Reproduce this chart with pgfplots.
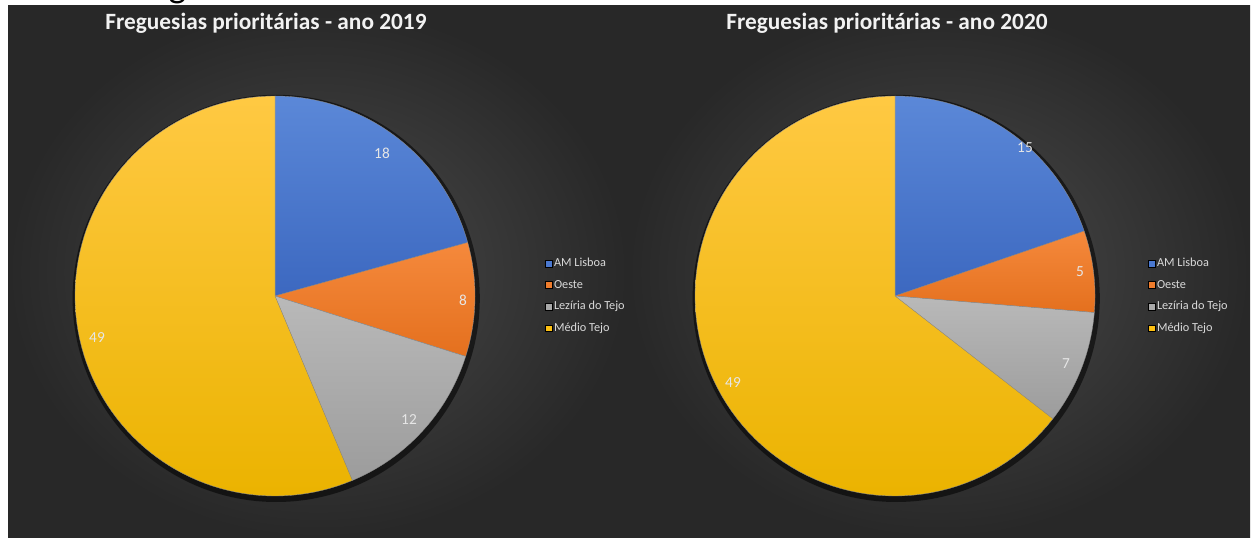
\documentclass[border=0pt]{standalone}
\usepackage{pgfplots}
\pgfplotsset{compat=1.18}
\usepackage{fontspec}
\setmainfont{Carlito}
\definecolor{bgin}{HTML}{4C4C4C}
\definecolor{bgout}{HTML}{282828}
\definecolor{blueT}{HTML}{5B88D8}
\definecolor{blueB}{HTML}{3C68C0}
\definecolor{blueM}{HTML}{4A78CF}
\definecolor{orangeT}{HTML}{F5893C}
\definecolor{orangeB}{HTML}{E4701E}
\definecolor{orangeM}{HTML}{EE7C2C}
\definecolor{grayT}{HTML}{B9B9B9}
\definecolor{grayB}{HTML}{9C9C9C}
\definecolor{grayM}{HTML}{A8A8A8}
\definecolor{yellowT}{HTML}{FFC943}
\definecolor{yellowB}{HTML}{EBB300}
\definecolor{yellowM}{HTML}{FDC012}
\definecolor{lbl}{HTML}{E6E6E6}
\definecolor{legtxt}{HTML}{D9D9D9}
\definecolor{ttl}{HTML}{F2F2F2}

\newcommand\slice[4]{%
  \addplot[forget plot, draw=black!45, line width=0.25pt, top color=#3, bottom color=#4,
    domain=#1:#2, samples=90, variable=\t] ({cos(\t)},{sin(\t)}) -- (axis cs:0,0) -- cycle;}

\pgfplotsset{pieaxis/.style={
  scale only axis, width=300pt, height=300pt,
  xmin=-1, xmax=1, ymin=-1, ymax=1, hide axis, clip=false, anchor=center,
  legend image code/.code={\fill[##1] (0pt,-2.6pt) rectangle (5.2pt,2.6pt);},
  legend cell align=left,
  legend style={draw=none, fill=none, anchor=west, text=legtxt,
    font=\fontsize{9.2}{10}\selectfont, row sep=6.4pt, inner sep=0pt,
    nodes={inner xsep=1pt, inner ysep=1pt}},
}}

\begin{document}
\begin{tikzpicture}
% data
\pgfmathsetmacro\Ta{18+8+12+49}
\pgfmathsetmacro\Aa{90-360*18/\Ta}
\pgfmathsetmacro\Ab{\Aa-360*8/\Ta}
\pgfmathsetmacro\Ac{\Ab-360*12/\Ta}
\pgfmathsetmacro\Tb{15+5+7+49}
\pgfmathsetmacro\Ba{90-360*15/\Tb}
\pgfmathsetmacro\Bb{\Ba-360*5/\Tb}
\pgfmathsetmacro\Bc{\Bb-360*7/\Tb}
% background
\fill[white] (0,0) rectangle (941.25pt,403.5pt);
\shade[inner color=bgin, outer color=bgout] (6pt,0) rectangle (471pt,399pt);
\shade[inner color=bgin, outer color=bgout] (471pt,0) rectangle (937.5pt,399pt);
\node[anchor=base, font=\fontsize{28}{30}\selectfont, text=black] at (133pt,405pt) {g};

\begin{axis}[pieaxis, at={(206.25pt,181.5pt)},
  legend style={at={(axis cs:1.35,0)}}]
\fill[black, opacity=0.55] (axis cs:0.006,-0.012) circle[radius=1.018];
\slice{\Aa}{90}{blueT}{blueB}
\slice{\Ab}{\Aa}{orangeT}{orangeB}
\slice{\Ac}{\Ab}{grayT}{grayB}
\slice{-270}{\Ac}{yellowT}{yellowB}
\addlegendimage{fill=blueM}\addlegendentry{AM Lisboa}
\addlegendimage{fill=orangeM}\addlegendentry{Oeste}
\addlegendimage{fill=grayM}\addlegendentry{Lezíria do Tejo}
\addlegendimage{fill=yellowM}\addlegendentry{Médio Tejo}
\node[text=lbl, font=\fontsize{11.5}{12}\selectfont] at (axis cs:0.535,0.715) {18};
\node[text=lbl, font=\fontsize{11.5}{12}\selectfont] at (axis cs:0.94,-0.02) {8};
\node[text=lbl, font=\fontsize{11.5}{12}\selectfont] at (axis cs:0.67,-0.62) {12};
\node[text=lbl, font=\fontsize{11.5}{12}\selectfont] at (axis cs:-0.89,-0.21) {49};
\end{axis}

\begin{axis}[pieaxis, at={(671.25pt,181.5pt)},
  legend style={at={(axis cs:1.265,0)}}]
\fill[black, opacity=0.55] (axis cs:0.006,-0.012) circle[radius=1.018];
\slice{\Ba}{90}{blueT}{blueB}
\slice{\Bb}{\Ba}{orangeT}{orangeB}
\slice{\Bc}{\Bb}{grayT}{grayB}
\slice{-270}{\Bc}{yellowT}{yellowB}
\addlegendimage{fill=blueM}\addlegendentry{AM Lisboa}
\addlegendimage{fill=orangeM}\addlegendentry{Oeste}
\addlegendimage{fill=grayM}\addlegendentry{Lezíria do Tejo}
\addlegendimage{fill=yellowM}\addlegendentry{Médio Tejo}
\node[text=lbl, font=\fontsize{11.5}{12}\selectfont] at (axis cs:0.65,0.74) {15};
\node[text=lbl, font=\fontsize{11.5}{12}\selectfont] at (axis cs:0.925,0.12) {5};
\node[text=lbl, font=\fontsize{11.5}{12}\selectfont] at (axis cs:0.855,-0.34) {7};
\node[text=lbl, font=\fontsize{11.5}{12}\selectfont] at (axis cs:-0.81,-0.435) {49};
\end{axis}

\node[text=ttl, font=\bfseries\fontsize{17.5}{20}\selectfont] at (199.5pt,386pt) {Freguesias prioritárias - ano 2019};
\node[text=ttl, font=\bfseries\fontsize{17.5}{20}\selectfont] at (665.25pt,386pt) {Freguesias prioritárias - ano 2020};

\pgfresetboundingbox
\useasboundingbox (0,0) rectangle (941.25pt,403.5pt);
\end{tikzpicture}
\end{document}
